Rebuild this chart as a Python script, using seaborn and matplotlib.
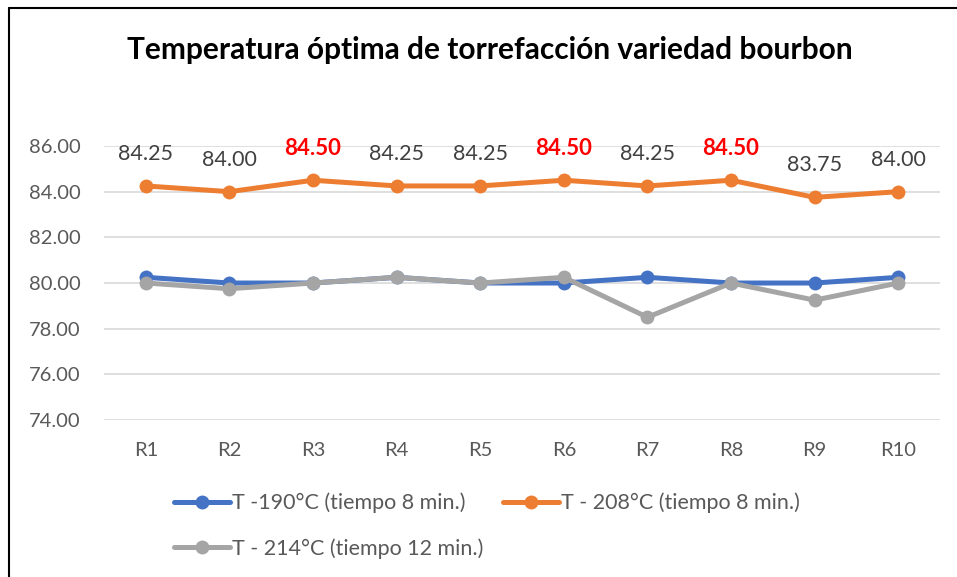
import pandas as pd
import numpy as np
import matplotlib.pyplot as plt
import seaborn as sns
from matplotlib.lines import Line2D

# datos
rondas = ["R1", "R2", "R3", "R4", "R5", "R6", "R7", "R8", "R9", "R10"]
t190 = [80.25, 80.00, 80.00, 80.25, 80.00, 80.00, 80.25, 80.00, 80.00, 80.25]
t208 = [84.25, 84.00, 84.50, 84.25, 84.25, 84.50, 84.25, 84.50, 83.75, 84.00]
t214 = [80.00, 79.75, 80.00, 80.25, 80.00, 80.25, 78.50, 80.00, 79.25, 80.00]

nombres = ["T -190°C (tiempo 8 min.)", "T - 208°C (tiempo 8 min.)", "T - 214°C (tiempo 12 min.)"]
colores = ["#4472C4", "#ED7D31", "#A5A5A5"]

sns.set_style("white")
plt.rcParams["font.family"] = ["Lato", "DejaVu Sans"]

fig = plt.figure(figsize=(9.57, 5.77), dpi=100)
ax = fig.add_axes([0.1087, 0.272, 0.8736, 0.475])

x = np.arange(len(rondas))
for serie, nombre, color in zip([t190, t208, t214], nombres, colores):
    sns.lineplot(x=x, y=serie, ax=ax, color=color, linewidth=3.6, marker="o",
                 markersize=10, markeredgewidth=0, label=nombre, sort=False)

# etiquetas de la serie naranja
for xi, v in zip(x, t208):
    if v == max(t208):
        ax.annotate(f"{v:.2f}", (xi, v), xytext=(0, 23), textcoords="offset points",
                    ha="center", va="center", fontsize=16, color="#FF0000", fontweight="bold")
    else:
        ax.annotate(f"{v:.2f}", (xi, v), xytext=(0, 23), textcoords="offset points",
                    ha="center", va="center", fontsize=15.5, color="#404040")

ax.set_xlim(-0.5, 9.5)
ax.set_ylim(74, 86)
ax.set_yticks(np.arange(74, 86.1, 2))
ax.set_yticklabels([f"{v:.2f}" for v in np.arange(74, 86.1, 2)])
ax.set_xticks(x)
ax.set_xticklabels(rondas)
ax.tick_params(axis="both", length=0, labelsize=14.5, labelcolor="#595959")
ax.tick_params(axis="y", pad=17)
ax.tick_params(axis="x", pad=16)
ax.grid(axis="y", color="#D9D9D9", linewidth=1.2)
ax.set_axisbelow(True)
for s in ax.spines.values():
    s.set_visible(False)

# orden de la leyenda: azul y naranja arriba, gris abajo
h, l = ax.get_legend_handles_labels()
orden = [0, 2, 1]
ax.legend([h[i] for i in orden], [l[i] for i in orden], loc="upper center",
          bbox_to_anchor=(0.458, -0.195), ncol=2, frameon=False,
          fontsize=15.5, labelcolor="#595959", handlelength=2.6, handletextpad=0.1,
          columnspacing=0.9, labelspacing=1.15)

fig.text(0.512, 1 - 50 / 577, "Temperatura óptima de torrefacción variedad bourbon",
         ha="center", va="center", fontsize=21.5, fontweight="bold", color="black")

# borde del grafico
fig.add_artist(Line2D([9 / 957, 1], [1 - 8 / 577, 1 - 8 / 577], color="black", linewidth=1.5))
fig.add_artist(Line2D([9 / 957, 9 / 957], [0, 1 - 8 / 577], color="black", linewidth=1.5))

plt.savefig("out.png", dpi=100)
